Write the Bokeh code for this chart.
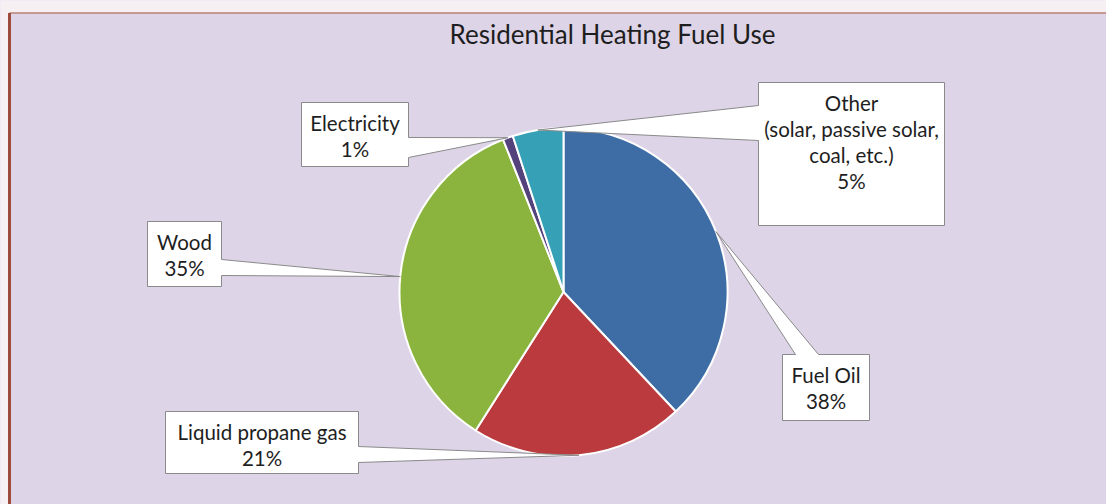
import math
from bokeh.plotting import figure
from bokeh.models import Range1d
from bokeh.core.properties import value
from bokeh.embed import file_html
from bokeh.resources import INLINE

# ---- data ----
title = "Residential Heating Fuel Use"
categories = ["Fuel Oil", "Liquid propane gas", "Wood", "Electricity", "Other"]
values = [38, 21, 35, 1, 5]
subtitles = ["", "", "", "", "(solar, passive solar,\ncoal, etc.)"]
colors = ["#3E6DA6", "#BA3A3D", "#8BB43F", "#54427C", "#35A0B6"]

# ---- layout (reference pixel coords) ----
W, H = 1106, 504
CX, CY, R = 563, 291.5, 164
# box: x0, x1, top, bottom ; pointer side ; base a, base b
boxes = [
    (782, 869, 354, 420, "top", 795, 818),
    (165, 358, 411, 473, "right", 446, 462),
    (147, 221, 221, 286, "right", 259, 275),
    (301, 408, 102, 166, "right", 137, 157),
    (758, 944, 82, 225, "left", 105, 140),
]
FONT = "Lato"
LINE_H = 26

def Y(v):
    return -v

p = figure(width=W, height=H, output_backend="svg", toolbar_location=None,
           x_range=Range1d(0, W), y_range=Range1d(-H, 0),
           min_border=0, outline_line_color=None)
p.axis.visible = False
p.grid.visible = False
p.background_fill_color = "#DDD4E7"
p.border_fill_color = "white"

# top strip and frame border
p.quad(left=0, right=W, top=Y(0), bottom=Y(12.5), fill_color="#F7F0F3", line_color=None)
p.quad(left=0, right=8, top=Y(0), bottom=Y(H), fill_color="#F7F0F3", line_color=None)
p.line(x=[9, W], y=[Y(12.5), Y(12.5)], line_color="#B98272", line_width=1.5)
p.line(x=[9, 9], y=[Y(12.5), Y(H)], line_color="#9C4B3C", line_width=3)

# pie
total = float(sum(values))
cum = 0.0
starts, ends, mids = [], [], []
for v in values:
    f0 = cum / total
    cum += v
    f1 = cum / total
    starts.append(math.pi / 2 - 2 * math.pi * f0)
    ends.append(math.pi / 2 - 2 * math.pi * f1)
    mids.append((f0 + f1) / 2)

p.wedge(x=[CX] * len(values), y=[Y(CY)] * len(values), radius=R,
        start_angle=starts, end_angle=ends, direction="clock",
        fill_color=colors, line_color="white", line_width=2)

# callouts
for i, (name, v) in enumerate(zip(categories, values)):
    x0, x1, t, b, side, ba, bb = boxes[i]
    fm = mids[i]
    ax = CX + R * math.sin(2 * math.pi * fm)
    ay = CY - R * math.cos(2 * math.pi * fm)
    if side == "right":
        pts = [(x0, t), (x1, t), (x1, ba), (ax, ay), (x1, bb), (x1, b), (x0, b)]
    elif side == "left":
        pts = [(x0, t), (x1, t), (x1, b), (x0, b), (x0, bb), (ax, ay), (x0, ba)]
    else:
        pts = [(x0, t), (ba, t), (ax, ay), (bb, t), (x1, t), (x1, b), (x0, b)]
    p.patch(x=[q[0] for q in pts], y=[Y(q[1]) for q in pts],
            fill_color="white", line_color="#8A8A8A", line_width=1)
    lines = [name]
    if subtitles[i]:
        lines += subtitles[i].split("\n")
    lines.append(f"{v}%")
    xc = (x0 + x1) / 2
    ys = [t + 20 + LINE_H * k for k in range(len(lines))]
    p.text(x=[xc] * len(lines), y=[Y(yy) for yy in ys], text=lines,
           text_font=value(FONT), text_font_size="20.5px", text_color="#1E1E1E",
           text_align="center", text_baseline="middle")

p.text(x=[612], y=[Y(33)], text=[title], text_font=value(FONT),
       text_font_size="26px", text_color="#1E1E1E",
       text_align="center", text_baseline="middle")

open("out.html", "w").write(file_html(p, INLINE))
